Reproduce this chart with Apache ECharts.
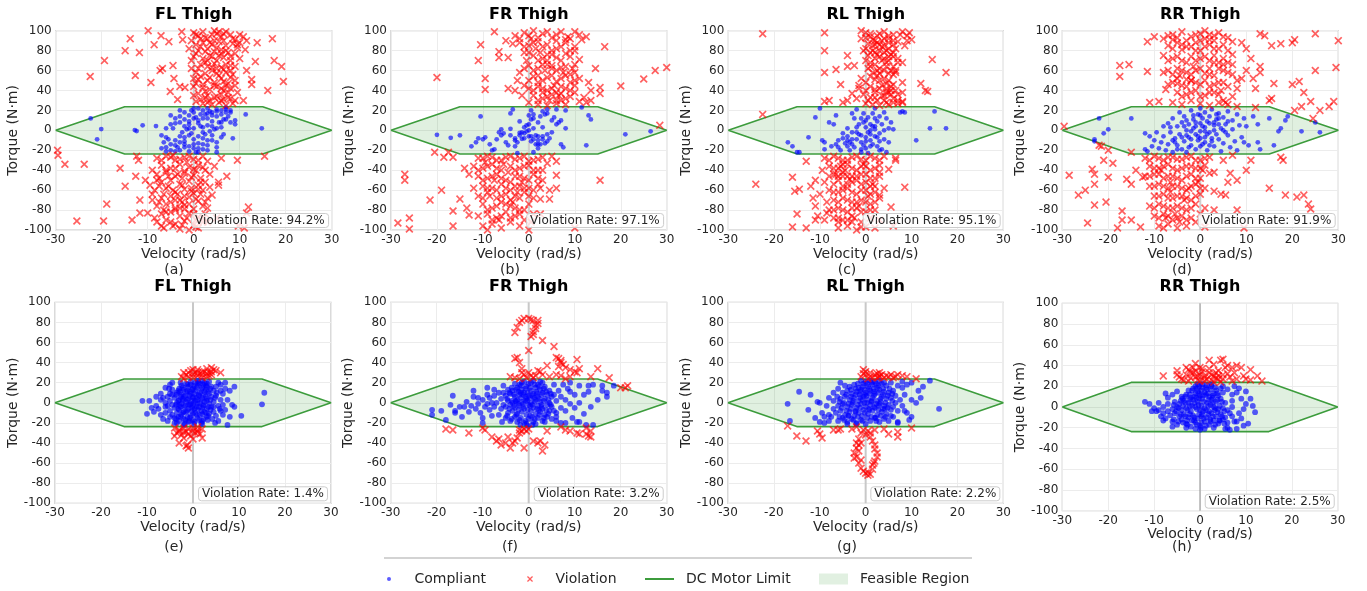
<!DOCTYPE html>
<html>
<head>
<meta charset="utf-8">
<script src="https://cdn.jsdelivr.net/npm/echarts@6/dist/echarts.min.js"></script>
<style>html,body{margin:0;padding:0;background:#fff;}#chart{width:1367px;height:591px;}</style>
</head>
<body>
<div id="chart"></div>
<script>
// ---------------- data ----------------
const panelTitles = ['FL Thigh','FR Thigh','RL Thigh','RR Thigh','FL Thigh','FR Thigh','RL Thigh','RR Thigh'];
const captions = ['(a)','(b)','(c)','(d)','(e)','(f)','(g)','(h)'];
const violationRates = ['94.2%','97.1%','95.1%','91.9%','1.4%','3.2%','2.2%','2.5%'];
const velTicks = [-30,-20,-10,0,10,20,30];
const torqueTicks = [-100,-80,-60,-40,-20,0,20,40,60,80,100];
// DC motor limit polygon (velocity rad/s, torque N·m)
const limitVel = [-30,-15,15,30,15,-15,-30];
const limitTorque = [0,23.7,23.7,0,-23.7,-23.7,0];

const aViol = [[0,98],[1,95],[2,99],[3,92],[5,97],[6,94],[7,99],[8,96],[9,91],[10,88],[0.5,86],[2,88],[4,86],[5.5,89],[7,85],[8.5,87],[1,80],[3,82],[4.5,79],[6,81],[7.5,78],[9,77],[0,74],[2,72],[3.5,75],[5,70],[6.5,73],[8,70],[1.5,66],[3,64],[4.5,67],[6,63],[7,66],[9,64],[0.5,58],[2.5,57],[4,60],[5.5,55],[7,58],[8.5,56],[1,51],[3,50],[4.5,48],[6,52],[7.5,47],[9,50],[0,44],[2,43],[3.5,41],[5,44],[6.5,40],[8,42],[9.5,38],[1,37],[3,35],[4.5,33],[6,36],[7.5,33],[9,30],[0.5,29],[2,27],[4,26],[5.5,28],[7,25],[8.5,27],[1.5,92],[4,96],[6.5,90],[3,70],[5,62],[2,46],[7,45],[-0.5,90],[-1,82],[-0.5,62],[0,52],[10,96],[4.5,100],[8,60],[6,30],[3,28],[2.5,33],[5.5,75],[9.5,83],
[0.5,96],[2.5,93],[4.5,90],[6.5,97],[8.5,92],[1.5,84],[3.5,88],[5,83],[7,80],[9.5,86],[0.5,77],[2.5,79],[4,74],[6,77],[8,74],[1,62],[2.5,68],[4,63],[6.5,61],[8,65],[1.5,54],[3.5,53],[5,57],[6.5,49],[8,53],[0.5,47],[2.5,39],[4.5,45],[6,42],[7.5,38],[1.5,31],[3.5,30],[5,34],[6.5,31],[8,32],[0,35],[9,45],[10,72],[-0.5,70],[5.5,99],
[-13.8,92],[-14.9,80],[-11.8,78],[-19.4,70],[-8.6,86],[-5.4,89],[-7.1,95],[-22.5,54],[-12.7,55],[-9.3,48],[-6.8,62],[-7.3,60],[-4.5,65],[-4.3,52],[-5.1,39],[-3.5,31],[-3,44],[-1.9,43],[-9.9,100],[-2.6,99],[-2.4,91],[13.8,88],[17.1,92],[17.5,70],[19.1,64],[19.5,49],[16.1,40],[13.4,69],[11.5,60],[12.6,51],[12.6,46],[10.8,94],[11.2,81],[10.8,30],[11.5,90],
[-8,-28],[-6,-26],[-4,-30],[-2,-27],[0,-29],[2,-26],[3,-31],[-7,-35],[-5,-38],[-3,-34],[-1,-37],[1,-35],[2.5,-40],[-8,-44],[-6,-42],[-4,-46],[-2,-43],[0,-45],[1.5,-48],[3.5,-44],[-7,-52],[-5,-50],[-3,-54],[-1,-51],[1,-55],[2.5,-52],[-8.5,-60],[-6,-58],[-4,-62],[-2,-59],[0,-63],[2,-60],[3.5,-57],[-7,-68],[-5,-66],[-3,-70],[-1,-67],[1,-71],[3,-68],[-8,-76],[-6,-74],[-4,-78],[-2,-75],[0,-79],[2,-76],[-7,-84],[-5,-82],[-3,-86],[-1,-83],[1,-87],[2.5,-84],[-8,-92],[-6,-90],[-4,-94],[-2,-91],[0,-95],[2,-92],[-6.5,-98],[-3,-99],[-1,-100],[1,-98],[-9,-40],[-9.5,-55],[-9,-70],[-10,-83],[-4.5,-25],[-1.5,-32],[0.5,-40],[-2.5,-48],[-5.5,-56],[-0.5,-58],[-3.5,-64],[-6.5,-80],[-1.5,-88],[-4.5,-96],[3,-78],[4,-65],[0.5,-90],[-2.5,-72],[-7.5,-48],[1.5,-64],[-5,-72],
[-7,-30],[-5,-27],[-3,-29],[-1,-26],[1,-30],[-6,-40],[-4,-38],[-2,-41],[0,-39],[2,-37],[-7.5,-56],[-5.5,-46],[-3.5,-44],[-0.5,-47],[1.5,-52],[-6.5,-64],[-4.5,-60],[-2.5,-55],[-0.5,-61],[1,-59],[-7.5,-72],[-4,-70],[-2,-66],[0.5,-69],[2.5,-72],[-6,-82],[-4,-80],[-2,-79],[0,-84],[2,-88],[-7,-96],[-5,-92],[-2.5,-95],[0.5,-97],[-8.5,-88],[-9,-64],[-8,-50],[3,-92],[-3,-78],[-1,-74],
[-29.6,-20],[-29.5,-25],[-28,-34],[-23.8,-34],[-25.4,-91],[-19.6,-91],[-18.9,-74],[-16,-38],[-14.9,-56],[-13.4,-90],[-12.6,-46],[-11.7,-70],[-11.7,-83],[-12.4,-26],[-12,-30],[-10.5,-50],[11.9,-77],[11.5,-83],[9.7,-96],[9.5,-30],[15.4,-26],[7.2,-46],[5.4,-52],[5.4,-55],[6,-28],[4.5,-36],[5,-88],[11,-98]];
const aComp = [[-22.4,12],[-20.1,1.3],[-21,-9],[-12.8,0.3],[-12.4,-0.7],[-11.1,5],[-8.2,4.3],[14.8,2],[11.3,16],[-6,-17],[-5,-20],[-4,-15],[-7,-18],[-6.5,-12],[-5.5,-9],[-3,-20],[-2,-17],[-1,-21],[0,-18],[1,-22],[2,-19],[-4,-10],[-3,-6],[-2,-11],[0,-9],[1,-13],[3,-15],[4,-10],[5,-22],[5,-12],[6,-7],[-6,2],[-5,6],[-4,12],[-3,14],[-2,4],[-1,9],[0,2],[1,7],[2,12],[3,5],[4,9],[5,14],[6,3],[7,11],[8,8],[9,10],[-5,15],[-3,20],[-1,15],[0,18],[1,22],[2,20],[3,22],[4,18],[5,21],[6,20],[7,23],[8,18],[0.5,13],[1.5,16],[2.5,-4],[3.5,-1],[-0.5,-3],[-1.5,1],[-2.5,-2],[4.5,1],[6.5,-4],[8.5,-8],[7.5,14],[9,6],[-7,-5],[-4.5,2],[2,-8],[0,22],[1,-6],[-3,8],[-2,-14],[3,-20],[5.5,8],[6,16],[-1,-5],[2,3],[4,-5],[7,18],[8,20],[-6,-21],[-0.5,20],[1.5,4],[3,12],[4,15],[0,-14],[-4,-21],[5,2],[-1,6],[-3.5,-17],[2.5,16],[3.5,19],[6.5,11],[-2,11],[0.5,-22],
[-5,-14],[-3,-12],[-1,-16],[1,-18],[3,-10],[5,-17],[-6,-7],[-2,-7],[2,-2],[4,4],[6,8],[-4,7],[-1,2],[1,10],[3,17],[5,19],[7,21],[-2,18],[0,12],[2,-14]];

const bViol = [[-3,95],[-1,98],[1,100],[3,97],[5,93],[7,99],[9,92],[11,96],[-2,88],[0,85],[2,89],[4,86],[6,82],[8,88],[10,84],[-1,78],[1,75],[3,72],[5,76],[7,70],[9,74],[11,71],[0,65],[2,62],[4,66],[6,60],[8,64],[10,58],[-2,58],[1,54],[3,50],[5,55],[7,52],[9,48],[11,52],[-1,45],[0,42],[2,44],[4,40],[6,38],[8,42],[10,45],[-3,40],[1,35],[3,32],[5,36],[7,30],[9,34],[11,29],[0,28],[2,26],[4,25],[6,27],[8,26],[-2.5,50],[-0.5,70],[1.5,82],[3.5,60],[5.5,45],[7.5,58],[9.5,62],[4.5,30],[6.5,35],[2.5,78],[8.5,94],[-1.5,35],[0.5,92],[5,65],[3,42],[10,38],[6,90],[-3.5,87],[2,55],[7,44],[4,70],
[-2,92],[0,95],[2,93],[4,99],[6,96],[8,91],[10,99],[-1,84],[1,88],[3,84],[5,80],[7,84],[9,80],[0,78],[2,70],[4,76],[6,73],[8,77],[10,66],[-1,62],[1,60],[3,66],[5,62],[7,63],[9,56],[0,50],[2,48],[4,53],[6,49],[8,55],[10,50],[1,40],[3,38],[5,42],[7,37],[9,40],[2,30],[4,34],[6,30],[8,32],
[-20,53],[-10.5,86],[-11,70],[-9.5,52],[-9.5,41],[-6.5,79],[-6.5,73],[-4.5,42],[-4.5,73],[-7.5,99],[-5,90],[16.5,84],[14.5,62],[20,44.5],[25,51.5],[27.5,60],[30,63],[13.5,40],[15.5,43],[15.5,37],[13.5,30],[12,33],[10,80],[12.5,94],[11.5,91],[28.5,5],[12.5,28],[13,48],
[-11,-28],[-9,-26],[-7,-30],[-5,-27],[-3,-29],[-1,-26],[1,-30],[3,-27],[-12,-36],[-10,-38],[-8,-34],[-6,-40],[-4,-36],[-2,-38],[0,-35],[2,-40],[-11,-46],[-9,-48],[-7,-44],[-5,-50],[-3,-46],[-1,-48],[1,-44],[3,-50],[-10,-56],[-8,-58],[-6,-54],[-4,-60],[-2,-56],[0,-58],[2,-54],[-11,-66],[-9,-62],[-7,-68],[-5,-64],[-3,-66],[-1,-62],[1,-68],[-10,-74],[-8,-78],[-6,-72],[-4,-76],[-2,-80],[0,-74],[-11,-86],[-9,-84],[-7,-88],[-5,-82],[-3,-86],[-1,-90],[1,-84],[-10,-96],[-8,-94],[-6,-98],[-4,-92],[-2,-96],[0,-100],[-12,-58],[-9.5,-32],[-2.5,-62],[-3.5,-72],[-8.5,-66],[-4.5,-42],[-1.5,-52],[-6.5,-90],[2,-48],[2.5,-58],[-7.5,-50],[-5.5,-34],[0.5,-92],
[-10,-28],[-8,-27],[-6,-30],[-4,-26],[-2,-28],[0,-31],[2,-29],[-11,-40],[-9,-36],[-7,-38],[-3,-40],[-1,-36],[1,-40],[-10,-50],[-8,-46],[-6,-48],[-4,-52],[-2,-46],[0,-50],[-9,-58],[-7,-60],[-5,-58],[-3,-56],[-1,-58],[1,-60],[-10,-68],[-6,-66],[-4,-70],[-2,-68],[0,-66],[-9,-80],[-7,-76],[-5,-74],[-3,-78],[-1,-80],[-8,-90],[-6,-86],[-4,-88],[-2,-84],[-9,-100],
[-27,-44],[-27,-50],[-28.5,-93],[-26,-88],[-26,-99],[-21.5,-70],[-19,-60],[-20.5,-22],[-18.5,-27],[-17.5,-22],[-16.5,-27],[-16.5,-81],[-16.5,-96],[-15,-69],[-13.5,-78],[-13,-85],[-14,-38],[-13,-44],[6,-31],[6,-45],[6,-58],[4.5,-60],[4.5,-69],[2.5,-69],[2.5,-84],[3,-40],[15.5,-50],[10,-98],[5,-26],[4,-33]];
const bComp = [[-20,-4.5],[-17,-7.5],[-15,-5],[-12.5,-16],[-11.5,-12],[-11,-8],[-10.5,14],[-10,-9],[-9.5,-7],[-8,-20],[-7.5,-19],[-7,-9],[-6.5,-2],[-6,1],[-5,-12],[-4.5,-15],[-4,17],[-3.5,21],[-4,1.5],[-3,-10],[-2.5,-23],[-2,-5],[-1.5,-2],[-1,3],[-1,-8],[-0.5,-1],[0,-6],[0,6],[0,15],[0.5,-11],[0.5,11],[0.5,20],[1,-22],[1,2],[1.5,-5],[2,-14],[2,-6],[2.5,-14],[2.5,14],[3,-6],[3,19],[3.5,-13],[3.5,16],[4,-11],[4,17],[4,21],[5,-2],[5,10],[5.5,13],[6,6],[6,21],[7,-14],[7.5,-17],[8,20],[8,2],[11.5,23],[12.5,-15],[13,15],[13.5,11],[21,-4],[26.5,-1],[-2,-2.5],[-1.5,-8.5],[0.5,-6],[1.5,-14],[-3,-8],[-5.5,-3],[2,8],[3,3],[-0.5,5],[1,12],[6.5,8],[-8.5,-14],[4.5,-8],[-2.5,-12],[-6,-5],[7,10],[2,-10],
[-1,-3],[1,-9],[3,-9],[-4,-5],[0,0],[2,-18],[-3,-16],[4,-4],[1,16],[-2,9]];

const cViol = [[0,98],[1,94],[2,90],[3,97],[4,92],[5,88],[6,96],[8,99],[9,95],[-1,92],[0.5,87],[1.5,85],[2.5,88],[3.5,84],[4.5,80],[5.5,76],[6.5,82],[7,89],[-0.5,80],[1,78],[3,74],[4,72],[5,70],[6,74],[7,68],[0,70],[2,66],[3,62],[4.5,64],[5.5,60],[6.5,58],[0.5,62],[1.5,58],[2.5,55],[3,57],[4,52],[5,50],[6,56],[8,48],[-1,52],[0,48],[1,44],[2,41],[3.5,45],[4.5,42],[5,38],[5.5,36],[6.5,40],[-1.5,42],[-0.5,36],[1,33],[2.5,30],[3.5,35],[4.5,28],[6,32],[7,27],[0,27],[1.5,26],[3,25],[5,26],[8,29],[9,90],[7.5,96],[4,99],[2,78],[8,68],[5,92],[3,80],[1,68],[6,46],[4,35],[2,51],[7,36],[9.5,98],[10,91],[-1,100],
[0,93],[1.5,91],[2.5,95],[3.5,90],[5,95],[6,90],[1,97],[2,86],[3,86],[4,85],[5,82],[6,86],[0,82],[1.5,80],[2.5,76],[4,78],[5,74],[6,78],[0.5,75],[2,72],[3.5,70],[4.5,68],[6,64],[1,64],[2.5,60],[4,60],[5,57],[1,54],[3,50],[4.5,47],[5.5,44],[0,40],[2,38],[3,42],[4.5,38],[5.5,40],[0.5,30],[2,33],[4,30],[6,28],
[-22.5,97],[-22.5,16],[-9,98],[-9,80],[-9,58],[-6.5,61],[-5.5,46],[-4,75],[-4,64],[-2.5,65],[-9,29],[-8,30],[-3,37],[-1.5,45],[-4,30],[-5,28],[12,47],[13,40],[13.5,39],[14.5,71],[17.5,58],[8,38],[7,30],[6.5,60],[8,28],[8.5,85],[7,72],[-2,32],
[-9,-28],[-7,-26],[-5,-30],[-3,-27],[-1,-29],[1,-26],[3,-30],[-8,-36],[-6,-38],[-4,-34],[-2,-40],[0,-36],[2,-38],[-7,-44],[-5,-42],[-3,-46],[-1,-44],[1,-48],[3,-42],[-9,-52],[-6,-50],[-4,-54],[-2,-50],[0,-52],[2,-56],[-8,-60],[-6,-62],[-4,-58],[-2,-64],[0,-60],[2,-62],[-7,-70],[-5,-68],[-3,-72],[-1,-70],[1,-74],[3,-68],[-8,-80],[-6,-78],[-4,-82],[-2,-78],[0,-82],[2,-80],[-7,-88],[-5,-90],[-3,-86],[-1,-92],[1,-88],[3,-90],[-6,-98],[-4,-96],[-2,-100],[0,-97],[2,-98],[-5.5,-36],[-5,-46],[-4.5,-40],[-6.5,-44],[-3.5,-49],[-2.5,-88],[-3,-92],[-1.5,-76],[0.5,-66],[1.5,-54],[-9.5,-40],[-10,-64],[-8.5,-72],[-9,-90],[-6,-92],[3,-46],[4,-58],[-0.5,-34],
[-8,-30],[-6,-28],[-4,-30],[-2,-26],[0,-30],[2,-28],[-7,-38],[-5,-34],[-3,-38],[-1,-36],[1,-40],[-8,-46],[-6,-46],[-4,-46],[-2,-46],[0,-44],[2,-48],[-7,-54],[-5,-56],[-3,-52],[-1,-54],[1,-56],[-7,-62],[-5,-60],[-3,-62],[-1,-60],[1,-64],[-6,-72],[-4,-70],[-2,-72],[0,-72],[2,-72],[-7,-80],[-5,-80],[-3,-78],[-1,-82],[1,-80],[-6,-88],[-4,-90],[-1,-97],
[-24,-54],[-16,-47],[-15.5,-61],[-14.5,-59],[-13,-31],[-15,-84],[-16,-97],[-13,-98],[-12,-56],[-11.5,-68],[-11,-76],[-11,-90],[-10.5,-86],[-8.5,-83],[6.5,-28],[6.5,-30],[8.5,-57],[5.5,-77],[5,-39],[3,-35],[3,-65],[6,-96],[4,-26],[-11,-50]];
const cComp = [[-17,-12],[-16,-16],[-15,-22],[-14.5,-22],[-12.5,-7],[-11,13],[-10,22],[-9.5,-10],[-9,-12],[-9,-19],[-7,6],[-6.5,15],[-6.5,-14],[-6,-17],[-6,-10],[-5.5,-20],[-5,-3],[-5,-8],[-4.5,-13],[-4,-6],[-4,-16],[-3.5,-20],[-3,17],[-3,-2],[-3,-9],[-2.5,-17],[-2,21],[-2,3],[-1.5,-4],[-1,12],[-1,-12],[-1,-22],[-0.5,8],[-0.5,-15],[0,3],[0,-7],[0,-18],[0.5,13],[0.5,-2],[0.5,-23],[1,6],[1,-10],[1.5,17],[1.5,-14],[2,22],[2,1],[2,-6],[2.5,9],[2.5,-16],[3,14],[3,-3],[3,-11],[3.5,6],[4,18],[4,0],[4,-9],[4.5,12],[4.5,-22],[5,2],[5,-12],[5.5,8],[6,1],[-2,-9],[-1.5,6],[1,0],[2,12],[-4,2],[3.5,-19],[-7.5,-16],[-8,8],[-2.5,12],[1.5,4],[0,10],[-1,-5],[8,19],[8.5,18],[7.5,18],[11,-10],[14,2],[15,19],[17.5,2],[-3.5,-12],[2.5,-7],
[-3,-14],[-1,-19],[1,-16],[-2,-2],[0,-11],[2,4],[3,-20],[-4,-10],[1,-4],[-0.5,17]];

const dViol = [[-8,92],[-6,96],[-4,99],[-2,94],[0,97],[1,92],[2,96],[3,90],[4,98],[6,93],[7,89],[-7,85],[-5,88],[-3,84],[-1,88],[1,84],[3,82],[5,86],[6,80],[7,76],[-6,72],[-4,70],[-2,74],[0,72],[2,70],[4,68],[5,72],[6,68],[-7,60],[-5,62],[-3,58],[-1,60],[1,57],[3,55],[5,60],[7,56],[-6,48],[-4,45],[-2,50],[0,46],[2,44],[4,48],[6,44],[8,50],[-5,38],[-3,36],[-1,40],[1,35],[3,38],[5,30],[7,34],[-6,28],[-4,26],[-2,30],[0,27],[2,25],[4,28],[6,26],[8,24],[1,100],[-1,80],[2,62],[5.5,28],[4.5,40],[3,75],[7,66],[9,52],[10,60],
[-7,95],[-5,93],[-3,90],[-1,96],[0,90],[2,91],[3,95],[5,94],[-6,82],[-4,86],[-2,84],[0,80],[2,86],[4,82],[-7,70],[-5,74],[-3,68],[-1,70],[1,74],[3,68],[5,66],[-6,56],[-4,60],[-2,56],[0,62],[2,56],[4,62],[6,58],[-7,46],[-5,52],[-3,44],[-1,48],[1,50],[3,46],[5,48],[-4,34],[-2,38],[0,34],[2,38],[4,36],
[-17.5,65],[-17.5,54],[-15.5,66],[-11.5,89],[-11.5,59],[-8,75],[-8,58],[-7.5,41],[-9,29],[-11,28],[-10,94],[-6,91],[-4,81],[-4.5,55],[-5,47],[-3,51],[-2,50],[-1.5,64],[15.5,85],[17.5,87],[20,88],[20.5,91],[25,97],[29.5,63],[30,90],[25,60],[21.5,49],[20,46],[22.5,38],[22,24],[20.5,20],[24,29],[26,20],[24.5,12],[28,24],[29,29],[16,47],[15.5,32],[15,30],[13,64],[13,58],[12,42],[14,95],[13,97],[11.5,52],[10,82],[9,88],[8,42],[12,23],[11,72],[-29.6,4],
[-12,-28],[-10,-26],[-8,-30],[-6,-27],[-4,-29],[-2,-26],[0,-30],[2,-27],[-11,-36],[-9,-38],[-7,-34],[-5,-40],[-3,-36],[-1,-38],[1,-35],[-12,-46],[-10,-44],[-8,-48],[-6,-46],[-4,-50],[-2,-44],[0,-48],[-11,-56],[-9,-54],[-7,-58],[-5,-56],[-3,-60],[-1,-54],[1,-58],[-10,-66],[-8,-64],[-6,-68],[-4,-66],[-2,-70],[0,-64],[-11,-76],[-9,-74],[-7,-78],[-5,-76],[-3,-80],[-1,-74],[1,-78],[-10,-86],[-8,-84],[-6,-90],[-4,-86],[-2,-88],[0,-84],[-9,-96],[-7,-94],[-5,-98],[-3,-96],[-1,-92],[1,-97],[-6.5,-62],[-5.5,-84],[-3.5,-70],[-8.5,-40],[-6.5,-52],[-2.5,-58],[-0.5,-52],[-4.5,-92],[-7.5,-88],[0.5,-40],
[-11,-30],[-9,-28],[-7,-27],[-5,-29],[-3,-27],[-1,-30],[1,-28],[-10,-38],[-8,-36],[-6,-38],[-4,-38],[-2,-36],[0,-38],[-11,-46],[-9,-44],[-7,-46],[-5,-48],[-3,-46],[-1,-48],[-10,-56],[-8,-56],[-6,-56],[-4,-58],[-2,-56],[0,-58],[-9,-66],[-7,-68],[-5,-66],[-3,-68],[-1,-66],[-10,-78],[-8,-76],[-6,-78],[-4,-78],[-2,-78],[-9,-88],[-7,-86],[-5,-88],[-3,-90],[-8,-98],
[-28.5,-45],[-26.5,-65],[-25,-60],[-24.5,-93],[-23.5,-39],[-23,-44],[-23,-54],[-23,-75],[-22,-15],[-21.5,-16],[-21,-30],[-20,-20],[-20,-47],[-19,-33],[-20.5,-72],[-18,-98],[-17,-81],[-17,-90],[-16,-49],[-15,-22],[-15,-54],[-15,-90],[-14,-40],[-13,-97],[-12.5,-47],[2,-43],[3,-42],[3,-61],[4.5,-64],[5.5,-65],[6,-52],[6.5,-43],[8,-50],[8,-80],[10,-40],[11,-30],[15,-58],[17.5,-27],[18,-30],[18.5,-65],[21,-67],[22.5,-65],[24,-79],[23.5,-74],[9.5,-98],[5,-30],[7,-25],[3,-80]];
const dComp = [[-22,12],[-21,-3],[-20,1],[-23,-9],[-23,-11],[-15,12],[-12,-3],[-11,-6],[-12,-19],[-11.5,-21],[-10.5,-16],[-10,-10],[-9.5,-2],[-9,-18],[-8.5,-12],[-8,-6],[-8,4],[-7.5,-20],[-7,-14],[-7,7],[-6.5,-2],[-6,-22],[-6,12],[-5.5,-8],[-5,4],[-5,-15],[-4.5,18],[-4.5,-4],[-4,-19],[-4,8],[-3.5,-11],[-3.5,14],[-3,0],[-3,-22],[-2.5,6],[-2.5,-7],[-2,20],[-2,-15],[-1.5,2],[-1.5,11],[-1,-4],[-1,-19],[-0.5,16],[-0.5,-10],[0,7],[0,-1],[0,22],[0.5,-14],[0.5,12],[1,3],[1,-7],[1,18],[1.5,-20],[1.5,9],[2,-2],[2,14],[2.5,21],[2.5,-11],[3,5],[3,-16],[3.5,11],[3.5,-4],[4,17],[4,-9],[4.5,2],[4.5,-21],[5,13],[5,-13],[5.5,6],[6,19],[6,-5],[6.5,-17],[7,10],[7,1],[7.5,-11],[8,16],[8,-20],[8.5,5],[9,-7],[9.5,12],[9.5,-12],[10,4],[10.5,-15],[11.5,14],[12.5,-12],[12.5,6],[13,-19],[15,12],[16,-15],[17,-1],[17.5,2],[18.5,10],[19,14],[22,-1],[25,8],[26,-2],[-1,8],[0.5,4],[-2,-1],[1.5,-4],[2,7],[-3,10],[3,0],[-0.5,-6],[-4,-7],[4,6],[-1.5,15],[2.5,-8],[5.5,-2],[6,9],[-5.5,-12],[-6.5,3],[0,-16],[-2.5,-17],[3.5,16],[1,-12],[-3.5,4],
[-2,-9],[0,15],[2,-15],[-5,-19],[1,-1],[3,8],[-3,-5],[-1,4],[5,0],[-6,-10],[0,-8],[4,12]];

const eComp = [[-4,-15],[-3,-18],[-2,-16],[-1,-19],[0,-17],[1,-15],[2,-18],[3,-14],[-3.5,-10],[-2.5,-12],[-1.5,-9],[-0.5,-13],[0.5,-10],[1.5,-12],[2.5,-9],[3.5,-11],[-4,-5],[-3,-7],[-2,-4],[-1,-6],[0,-3],[1,-7],[2,-5],[3,-6],[4,-4],[-3.5,0],[-2.5,-1],[-1.5,1],[-0.5,-1],[0.5,2],[1.5,0],[2.5,1],[3.5,-1],[-4,5],[-3,3],[-2,6],[-1,4],[0,6],[1,3],[2,5],[3,4],[4,6],[-3.5,10],[-2.5,8],[-1.5,11],[-0.5,9],[0.5,12],[1.5,10],[2.5,11],[3.5,9],[-3,14],[-2,13],[-1,16],[0,14],[1,17],[2,15],[3,16],[-1.5,19],[-0.5,18],[0.5,20],[1.5,19],[2.5,20],[-2.5,17],[-5,-8],[-5,2],[-5,9],[-4.5,-12],[-4.5,13],[4.5,-9],[4.5,1],[4.5,12],[5,-13],[5,7],[5,16],[5.5,-3],[-5.5,-3],[-5.5,6],[-6,0],[-6,-10],[6,-8],[6,3],[6,12],[-6.5,5],[6.5,-2],[-0.2,-8],[0.8,-4],[-1.2,-14],[1.2,8],[2.2,-2],[-2.2,2],[-0.8,7],[0.2,0],[3.2,-17],[-3.2,-14],[2.8,13],[-2.8,11],[1.8,-20],[-1.8,-21],[0.2,-21],[-0.8,-18],[4.2,-16],[4,16],[3,19],[2,22],[1,22],[-0.5,21],[-1,-2],[1,-1],[0,5],[0,-11],[-2,-9],[2,-11],[-3,-2],[3,2],
[-3.7,-16],[-2.7,-14],[-1.7,-17],[-0.7,-15],[0.3,-19],[1.3,-17],[2.3,-16],[3.3,-13],[-3.2,-6],[-2.2,-10],[-1.2,-8],[-0.2,-5],[0.8,-12],[1.8,-8],[2.8,-10],[3.8,-7],[-3.7,-2],[-2.7,-4],[-1.7,-3],[-0.7,-2],[0.3,-6],[1.3,-4],[2.3,-3],[3.3,-4],[-3.2,2],[-2.2,4],[-1.2,3],[-0.2,2],[0.8,5],[1.8,3],[2.8,6],[3.8,3],[-3.7,8],[-2.7,6],[-1.7,7],[-0.7,11],[0.3,9],[1.3,7],[2.3,8],[3.3,11],[-3.2,12],[-2.2,15],[-1.2,12],[-0.2,13],[0.8,15],[1.8,13],[2.8,17],[3.8,14],[-2.7,20],[-1.2,18],[0.2,17],[1.2,20],[2.2,18],[-4.5,-2],[-4.5,8],[4.5,-4],[4.8,5],[-5,-14],[5.2,10],[-5.2,14],
[-11,2],[-10,-11],[-9.5,2],[-8,-3],[-8,6],[-7.5,-6],[-7,-12],[-7,9],[-6.5,-16],[-6,15],[-7,3],[-8.5,-9],[-5.5,-18],[-5,18],[-4.5,20],[-4,-20],[5.5,-18],[6,18],[6.5,9],[7,-7],[7,14],[7.5,-22],[7.5,3],[8,12],[8,-14],[9,-4],[9,16],[10.5,-13],[15.5,10],[15,-1.5],[5.5,20],[6.5,-12],[3.5,21],[-3.5,-20],[-6,-4],[-9,-5],[8.5,-2],[7,20],[-2,-22],[2,-21],[4.8,-20],[5.8,-6]];
const eViol = [[-2,24],[-1,26],[0,25],[1,27],[2,25],[3,26],[4,28],[-1.5,28],[0.5,30],[1.5,29],[2.5,31],[3.5,30],[4.5,33],[-0.5,32],[1,33],[3,34],[4,35],[2,28],[6,30],[-2.5,26],[5,32],[3.5,27],[0,28],[-1,30],[0,33],[1,30],[2,31],[3,29],[4,31],[-2,30],
[-4,-25],[-3,-27],[-2,-25],[-1,-26],[0,-25],[1,-27],[2,-26],[-3.5,-30],[-2.5,-32],[-1.5,-29],[-0.5,-33],[0.5,-30],[1.5,-31],[-2,-35],[0,-36],[-3,-40],[-1.5,-43],[-1,-45],[-1.2,-42],[2,-35],[-4,-33],[1,-24],[-3,-28],[-1,-31],[1,-29],[0,-28],[-2,-29]];

const fComp = [[-5,-15],[-4,-18],[-3,-14],[-2,-17],[-1,-20],[0,-16],[1,-19],[2,-15],[3,-18],[4,-14],[5,-16],[-4.5,-10],[-3.5,-8],[-2.5,-11],[-1.5,-9],[-0.5,-12],[0.5,-8],[1.5,-11],[2.5,-9],[3.5,-12],[4.5,-8],[-5,-4],[-4,-2],[-3,-5],[-2,-3],[-1,-6],[0,-2],[1,-5],[2,-3],[3,-6],[4,-2],[5,-4],[-4.5,2],[-3.5,0],[-2.5,3],[-1.5,1],[-0.5,4],[0.5,0],[1.5,3],[2.5,1],[3.5,4],[4.5,0],[-5,7],[-4,9],[-3,6],[-2,8],[-1,10],[0,7],[1,9],[2,6],[3,10],[4,8],[5,6],[-4.5,13],[-3.5,12],[-2.5,15],[-1.5,13],[-0.5,16],[0.5,12],[1.5,15],[2.5,13],[3.5,16],[4.5,12],[-3,19],[-2,18],[-1,21],[0,19],[1,22],[2,18],[3,20],[-0.2,-23],[0.8,-22],[-1.8,-22],[-0.3,2],[0.3,-3],[1.2,5],[-1.2,-1],[-2.2,-7],[2.2,-7],[0.7,-14],[-0.7,6],[1.7,11],[-1.7,10],[2.8,-2],[-2.8,2],[6,-10],[6,2],[6.5,12],[7,-5],[7,6],[-6,-6],[-6,4],[-6.5,-12],[-6.5,10],[-7,0],[5.5,18],[-5.5,17],[6,-18],[-5.8,-19],
[-4.7,-13],[-3.7,-16],[-2.7,-12],[-1.7,-15],[-0.7,-18],[0.3,-13],[1.3,-16],[2.3,-12],[3.3,-15],[4.3,-11],[-4.2,-6],[-3.2,-3],[-2.2,-1],[-1.2,-4],[-0.2,-7],[0.8,-2],[1.8,-6],[2.8,-4],[3.8,-7],[4.8,-2],[-4.7,4],[-3.7,2],[-2.7,1],[-1.7,5],[-0.7,2],[0.3,5],[1.3,1],[2.3,4],[3.3,2],[4.3,3],[-4.2,10],[-3.2,8],[-2.2,11],[-1.2,8],[-0.2,10],[0.8,7],[1.8,9],[2.8,8],[3.8,11],[4.8,9],[-3.7,15],[-2.7,13],[-1.7,17],[-0.7,14],[0.3,15],[1.3,18],[2.3,16],[3.3,14],[-1.5,20],[0.5,20],[2.5,21],[-2.5,-19],[-0.5,-21],[1.5,-21],[3.5,-19],[5.5,-8],[5.5,8],[-5.5,-2],[-5.5,10],[6,-14],
[-21,-7],[-21,-12],[-18,-17],[-16.5,7],[-17,-2],[-16,-10],[-15,-4],[-14,-4],[-13.5,1],[-12.5,-3],[-12,12],[-11.5,-6],[-11,5],[-11,-1],[-10.5,-10],[-10,-15],[-10,3],[-9.5,-4],[-9,8],[-9,-1],[-8.5,-7],[-8.5,5],[-8,0],[-8,-13],[-7.5,-4],[-7.5,7],[-7.5,13],[-9,15],[-10,-20],[-16,-8],[-19,-8],[-13,-9],[-12,6],[-14.5,-14],
[8,-20],[8,-8],[8,3],[8.5,14],[9,-1],[9.5,-15],[10,8],[10,-5],[10.5,-19],[11,17],[11,0],[12,-11],[12,8],[13,17],[13.5,-4],[14,18],[14,-22],[15,3],[16,12],[17,6],[17,10],[18.5,17],[7.5,18],[9,20],[11,-19],[12.5,-22],[7,-20],[9,11],[13,11],[16,17]];
const fViol = [[-3,70],[-2.5,75],[-2,80],[-1.5,82],[-1,84],[0,84],[0.5,83],[1,82],[2,82],[2,79],[1.5,77],[1.5,74],[1,71],[1,68],[0.5,66],[0,52],[3,62],[5.5,56],[6,45],[6.5,44],[7,42],[7,40],[7.5,38],[6.5,36],[8,35],[9,33],[10,31],[10.5,30],[11,34],[10.5,43],[15,34],[17.5,25],[13.5,26],[7,27],[8,24],[21,15],[21.5,17],[20,15],[9,26],[6,28],
[-3,44],[-2.5,45],[-2,40],[-1.5,34],[-1,28],[-2,24],[0,30],[1.5,27],[2,32],[3,28],[4,37],[4.5,26],[-4,26],[-3,25],[-0.5,25],[1,25],[2.5,31],[0.5,27],[-1.5,30],
[-18,-26],[-16.5,-27],[-13,-30],[-10,-25],[-9.5,-27],[-8,-34],[-7,-38],[-6,-42],[-5,-40],[-4,-45],[-3.5,-40],[-3,-38],[-2.5,-35],[-2,-30],[-1.5,-28],[-1,-26],[-0.5,-28],[-1,-45],[1,-38],[2,-40],[3,-48],[3.5,-42],[4,-28],[2.5,-38],[7,-24],[8,-27],[9,-28],[10.5,-30],[11,-31],[12.5,-25],[13,-33],[13.5,-34],[12.5,-31],[13.5,-28],[-4.5,-34],[-6.5,-36],[-2,-27],[0,-26]];

const gComp = [[-6,-18],[-5,-15],[-4,-19],[-3,-16],[-2,-20],[-1,-17],[0,-21],[1,-18],[2,-15],[3,-19],[4,-16],[5,-18],[6,-14],[-6.5,-10],[-5.5,-8],[-4.5,-12],[-3.5,-9],[-2.5,-13],[-1.5,-10],[-0.5,-7],[0.5,-11],[1.5,-8],[2.5,-12],[3.5,-9],[4.5,-11],[5.5,-7],[-6,-3],[-5,-1],[-4,-4],[-3,-2],[-2,-5],[-1,-1],[0,-4],[1,-2],[2,-5],[3,-1],[4,-3],[5,-2],[6,-4],[-5.5,4],[-4.5,6],[-3.5,3],[-2.5,5],[-1.5,2],[-0.5,6],[0.5,3],[1.5,5],[2.5,2],[3.5,6],[4.5,4],[5.5,5],[-5,10],[-4,12],[-3,9],[-2,11],[-1,13],[0,10],[1,12],[2,9],[3,13],[4,11],[5,10],[6,12],[-3.5,16],[-2.5,18],[-1.5,15],[-0.5,19],[0.5,16],[1.5,18],[2.5,15],[3.5,19],[4.5,17],[-1,22],[0,21],[1,22],[2,21],[3,22],[-0.3,0],[0.7,-6],[-1.3,8],[1.3,1],[2.2,-15],[-2.2,-8],[0.2,7],[-0.8,-13],[1.8,14],[-2.8,0],[3.2,4],[2.8,-3],[-3.8,-13],[4.2,-6],[5.2,14],[6.5,7],[6.5,0],[7,-8],[7,-19],[7,17],[-7,-6],[-7,2],[-7.5,-14],[-7,10],[-6,14],[-4,-21],[-2,-21],[4,20],[5.5,20],
[-5.7,-14],[-4.7,-17],[-3.7,-13],[-2.7,-17],[-1.7,-14],[-0.7,-18],[0.3,-15],[1.3,-14],[2.3,-18],[3.3,-13],[4.3,-14],[-5.2,-5],[-4.2,-8],[-3.2,-6],[-2.2,-9],[-1.2,-5],[-0.2,-10],[0.8,-7],[1.8,-4],[2.8,-7],[3.8,-6],[4.8,-5],[-5.7,1],[-4.7,0],[-3.7,-1],[-2.7,2],[-1.7,-2],[-0.7,3],[0.3,0],[1.3,2],[2.3,-1],[3.3,1],[4.3,0],[-4.2,8],[-3.2,6],[-2.2,8],[-1.2,5],[-0.2,8],[0.8,9],[1.8,7],[2.8,10],[3.8,8],[4.8,7],[-3.2,13],[-2.2,14],[-1.2,11],[-0.2,13],[0.8,14],[1.8,11],[2.8,17],[3.8,14],[-1.7,19],[-0.7,16],[0.3,19],[1.3,20],[2.3,19],[5.5,-13],[5.8,2],[5.8,9],[-6.2,6],
[-17,-1],[-16.5,-18],[-14.5,11],[-12,8],[-12.5,-7],[-10.5,1],[-10,-19],[-10,0],[-9.5,-10],[-9,-14],[-9,-20],[-8.5,-3],[-8,5],[-8,-12],[-8,-18],[-11,-15],[14,22],[16,-6],[12.5,16],[11.5,12],[10,-14],[7,-20],[8,15],[8,-3],[8.5,8],[9,18],[9,-10],[10,3],[10,20],[11,0],[8,21],[9.5,-17],[7.5,3],[8.5,-8],[12,5],[-5.5,20],[-4.5,17]];
const gViol = [[0,31],[-0.5,33],[0,28],[1,26],[2,28],[3,27],[4,25],[5,26],[6,25],[7,28],[8,27],[9,26],[11,24],[3,26],[2.5,29],[3.5,28],[1.5,25],[-1,26],[0.5,24],[4.5,27],[6.5,26],[1,30],[2.5,25],[5.5,28],[3,30],[-0.5,29],
[-1,-30],[0,-32],[1,-30],[-0.5,-27],[0.5,-28],[-1.5,-36],[-2,-40],[-2,-45],[-2.5,-50],[-2.5,-55],[-1.5,-60],[-1,-65],[-0.5,-68],[0,-70],[0.5,-72],[1,-71],[1.5,-66],[1.5,-62],[2,-58],[2.5,-54],[2.5,-50],[2,-46],[2,-42],[1.5,-38],[1,-34],[-1.5,-48],[-2,-54],[-1,-40],[1.8,-60],[0.5,-69],[-1.5,-42],[-1,-57],
[-17,-23],[-15,-33],[-13,-38],[-10.5,-28],[-10,-31],[-9.5,-35],[-7,-27],[-6,-27],[-5.5,-26],[5,-31],[7,-29],[7,-34],[10,-25],[2,-27],[4,-26],[-3,-26],[-2,-24]];

const hComp = [[-6,-14],[-5,-17],[-4,-12],[-3,-16],[-2,-19],[-1,-15],[0,-18],[1,-14],[2,-17],[3,-13],[4,-16],[5,-12],[6,-15],[-6.5,-8],[-5.5,-6],[-4.5,-9],[-3.5,-7],[-2.5,-10],[-1.5,-8],[-0.5,-11],[0.5,-7],[1.5,-10],[2.5,-6],[3.5,-9],[4.5,-7],[5.5,-10],[6.5,-6],[-6,-2],[-5,0],[-4,-3],[-3,-1],[-2,-4],[-1,0],[0,-3],[1,-1],[2,-4],[3,0],[4,-2],[5,-1],[6,-3],[-5.5,5],[-4.5,3],[-3.5,6],[-2.5,4],[-1.5,7],[-0.5,5],[0.5,8],[1.5,4],[2.5,7],[3.5,5],[4.5,8],[5.5,4],[-4,10],[-3,12],[-2,9],[-1,13],[0,11],[1,14],[2,10],[3,13],[4,11],[5,14],[-2.5,16],[-1.5,18],[-0.5,15],[0.5,19],[1.5,17],[2.5,20],[3.5,16],[4.5,18],[-0.5,22],[0.5,22],[1.5,21],[2.5,22],[-1,20],[-0.3,2],[0.7,-4],[-1.3,-13],[1.3,12],[2.2,-12],[-2.2,1],[0.2,-20],[-0.8,9],[1.8,1],[-2.8,-13],[3.2,-3],[2.8,9],[-3.8,8],[4.2,-13],[0.3,-9],[-1,-21],[1,-21],[3,-20],[-3,-20],[7,-9],[7,0],[7,6],[7.5,-14],[7,12],[-7,-4],[-7,3],[-7.5,-11],[-7,9],[-8,-6],[-8,0],[-8.5,-9],[-9,-3],[5,20],[6,17],[-6,-19],[6,-20],[5.5,-21],[0,-22],
[-5.7,-12],[-4.7,-14],[-3.7,-15],[-2.7,-17],[-1.7,-13],[-0.7,-17],[0.3,-15],[1.3,-18],[2.3,-14],[3.3,-17],[4.3,-13],[5.3,-16],[-5.2,-4],[-4.2,-7],[-3.2,-9],[-2.2,-7],[-1.2,-10],[-0.2,-7],[0.8,-11],[1.8,-7],[2.8,-9],[3.8,-5],[4.8,-9],[-5.7,2],[-4.7,-1],[-3.7,1],[-2.7,-3],[-1.7,1],[-0.7,-2],[0.3,1],[1.3,-3],[2.3,2],[3.3,-1],[4.3,1],[5.3,-4],[-4.2,6],[-3.2,4],[-2.2,7],[-1.2,4],[-0.2,8],[0.8,5],[1.8,7],[2.8,4],[3.8,7],[4.8,5],[-3.2,10],[-2.2,12],[-1.2,10],[-0.2,13],[0.8,11],[1.8,13],[2.8,11],[3.8,13],[-1.7,16],[-0.7,18],[0.3,16],[1.3,19],[2.3,17],[3.3,19],[-0.2,20],
[-12,5],[-11,3],[-10,-1],[-10.5,-4],[-9.5,-4],[-9,4],[-7.5,13],[-8,-13],[-6,12],[-5,15],[11.5,1],[12,-5],[10,15],[9.5,-2],[9,8],[8.5,-6],[8,14],[8,-14],[9,-11],[10,3],[8.5,18],[7.5,20],[9.5,-18],[8,-21],[6.5,-22],[10.5,-16],[11,8]];
const hViol = [[-8,30],[-5,35],[-5,31],[-4.5,29],[-3,38],[-2.5,36],[-1,42],[0,38],[2,45],[3,41],[4.5,45],[5,46],[6,40],[7,38],[8,40],[9,38],[11,36],[12.5,30],[13.5,25],[8,27],[6,32],[1,30],[-2,28],[-1.5,33],[-0.5,26],[0.5,34],[1.5,27],[2.5,31],[3.5,28],[4,35],[5,27],[5.5,38],[6.5,29],[7.5,33],[9.5,30],[10,27],[-3.5,26],[-0.5,30],[1,25],[2,37],[3,24],[4,30],[0,25],[-1,35],[7,25],[11,26],[3.5,33],
[-4,27],[-3,31],[-2,33],[-1,29],[0,31],[1,28],[2,33],[3,30],[4,27],[5,31],[-2.5,25],[0.5,37],[2.5,26],[4.5,24],[-1.5,38]];

const compliantSets = [aComp,bComp,cComp,dComp,eComp,fComp,gComp,hComp];
const violationSets = [aViol,bViol,cViol,dViol,eViol,fViol,gViol,hViol];

// ---------------- layout ----------------
const W = 1367, H = 591;
const FONT = '"DejaVu Sans", "Liberation Sans", sans-serif';
const layout = [
  {left:55.7, top:30.7, w:276, h:199.3, tY:15, capX:174, capY:270, nameGap:14, zero:{c:'#cfcfcf',w:2}},
  {left:391, top:30.7, w:275.7, h:199.3, tY:15, capX:510, capY:270, nameGap:14, zero:{c:'#cfcfcf',w:2}},
  {left:728.3, top:30.7, w:275, h:199.3, tY:15, capX:847, capY:270, nameGap:14, zero:{c:'#cfcfcf',w:2}},
  {left:1062.3, top:30.7, w:276, h:199.3, tY:15, capX:1182, capY:270, nameGap:14, zero:{c:'#cfcfcf',w:2}},
  {left:55, top:302.3, w:276, h:201, tY:287, capX:174, capY:547, nameGap:15, zero:{c:'#c8c8c8',w:2}},
  {left:390.7, top:302.3, w:276, h:201, tY:287, capX:510, capY:547, nameGap:15, zero:{c:'#c8c8c8',w:2}},
  {left:728, top:302.3, w:275.3, h:201, tY:287, capX:847, capY:547, nameGap:15, zero:{c:'#c8c8c8',w:2}},
  {left:1062.3, top:303.3, w:275.4, h:207.4, tY:287, capX:1182, capY:547, nameGap:14, zero:{c:'#8a8a8a',w:1}}
];

const BLUE = 'rgba(0,0,255,0.8)';
const RED = 'rgba(255,0,0,0.78)';
const GREEN = '#3c9c3c';
const FILL = 'rgba(0,128,0,0.12)';
const XPATH = 'path://M1.5,0 L5,3.5 L8.5,0 L10,1.5 L6.5,5 L10,8.5 L8.5,10 L5,6.5 L1.5,10 L0,8.5 L3.5,5 L0,1.5 Z';
const TXT = '#262626';

const grids = [], xAxes = [], yAxes = [], series = [], titles = [], graphics = [];
layout.forEach((p, i) => {
  grids.push({left:p.left, top:p.top, width:p.w, height:p.h, show:true, borderColor:'#c2c2c2', borderWidth:1.2, backgroundColor:'transparent', containLabel:false});
  xAxes.push({gridIndex:i, type:'value', min:velTicks[0], max:velTicks[velTicks.length-1], interval:10,
    name:'Velocity (rad/s)', nameLocation:'middle', nameGap:p.nameGap,
    nameTextStyle:{fontSize:14, color:TXT, fontFamily:FONT},
    axisLine:{show:false}, axisTick:{show:false},
    axisLabel:{fontSize:12, color:TXT, fontFamily:FONT, margin:4},
    splitLine:{show:true, lineStyle:{color:'#ececec', width:1}}});
  yAxes.push({gridIndex:i, type:'value', min:torqueTicks[0], max:torqueTicks[torqueTicks.length-1], interval:20,
    name:'Torque (N·m)', nameLocation:'middle', nameGap:33,
    nameTextStyle:{fontSize:14, color:TXT, fontFamily:FONT},
    axisLine:{show:false}, axisTick:{show:false},
    axisLabel:{fontSize:12, color:TXT, fontFamily:FONT, margin:4},
    splitLine:{show:true, lineStyle:{color:'#ececec', width:1}}});
  const polyData = limitVel.map((v, k) => [v, limitTorque[k]]);
  series.push({name:'Feasible Region', type:'custom', xAxisIndex:i, yAxisIndex:i, z:1, silent:true, clip:true,
    itemStyle:{color:FILL},
    data: polyData,
    renderItem: function(params, api){
      if (params.dataIndex !== 0) return null;
      const pts = limitVel.map((v, k) => api.coord([v, limitTorque[k]]));
      return {type:'polygon', shape:{points:pts}, style:{fill:FILL, stroke:null}};
    }});
  series.push({type:'line', xAxisIndex:i, yAxisIndex:i, z:2, silent:true, symbol:'none',
    data:[[0, torqueTicks[0]],[0, torqueTicks[torqueTicks.length-1]]],
    lineStyle:{color:p.zero.c, width:p.zero.w}});
  series.push({name:'DC Motor Limit', type:'line', xAxisIndex:i, yAxisIndex:i, z:3, silent:true, symbol:'none',
    data: polyData, lineStyle:{color:GREEN, width:1.6}, itemStyle:{color:GREEN}});
  series.push({name:'Compliant', type:'scatter', xAxisIndex:i, yAxisIndex:i, z:4, silent:true,
    symbol:'circle', symbolSize: i < 4 ? 4.8 : 5.8, data:compliantSets[i], itemStyle:{color:BLUE}});
  series.push({name:'Violation', type:'scatter', xAxisIndex:i, yAxisIndex:i, z:5, silent:true,
    symbol:XPATH, symbolSize:8, data:violationSets[i], itemStyle:{color:RED}});
  titles.push({text:'Violation Rate: ' + violationRates[i], right: W - (p.left + p.w - 3), bottom: H - (p.top + p.h - 2),
    textStyle:{fontSize:12, fontWeight:'normal', color:TXT, fontFamily:FONT},
    padding:[2,4,1,4], backgroundColor:'rgba(255,255,255,0.8)', borderColor:'#cccccc', borderWidth:1, borderRadius:3, z:10});
  graphics.push({type:'text', x:p.left + p.w/2, y:p.tY, z:20,
    style:{text:panelTitles[i], font:'bold 16px ' + FONT, fill:'#000', textAlign:'center', textVerticalAlign:'middle'}});
  graphics.push({type:'text', x:p.capX, y:p.capY, z:20,
    style:{text:captions[i], font:'14px ' + FONT, fill:TXT, textAlign:'center', textVerticalAlign:'middle'}});
});
graphics.push({type:'line', shape:{x1:384, y1:558, x2:972, y2:558}, style:{stroke:'#c4c4c4', lineWidth:1.5}, z:20});

const legTxt = (pad) => ({fontSize:14, color:TXT, fontFamily:FONT, padding:[0,0,0,pad]});
const legends = [
  {data:[{name:'Compliant', icon:'circle', itemStyle:{color:'rgba(0,0,255,0.8)'}}], left:387, top:572, itemWidth:4, itemHeight:4, padding:0, textStyle:legTxt(18.5), selectedMode:false},
  {data:[{name:'Violation', icon:XPATH, itemStyle:{color:'rgba(255,0,0,0.8)'}}], left:527, top:572, itemWidth:6, itemHeight:6, padding:0, textStyle:legTxt(17.5), selectedMode:false},
  {data:[{name:'DC Motor Limit', icon:'rect', itemStyle:{color:GREEN}}], left:645, top:572, itemWidth:29, itemHeight:2, padding:0, textStyle:legTxt(7), selectedMode:false},
  {data:[{name:'Feasible Region', icon:'rect', itemStyle:{color:'#e1f0e1'}}], left:819, top:572, itemWidth:29, itemHeight:11, padding:0, textStyle:legTxt(7), selectedMode:false}
];

const chart = echarts.init(document.getElementById('chart'), null, {renderer:'canvas', width:W, height:H});
chart.setOption({
  animation:false,
  backgroundColor:'#ffffff',
  textStyle:{fontFamily:FONT},
  grid:grids, xAxis:xAxes, yAxis:yAxes, series:series,
  title:titles, legend:legends, graphic:graphics
});
</script>
</body>
</html>
